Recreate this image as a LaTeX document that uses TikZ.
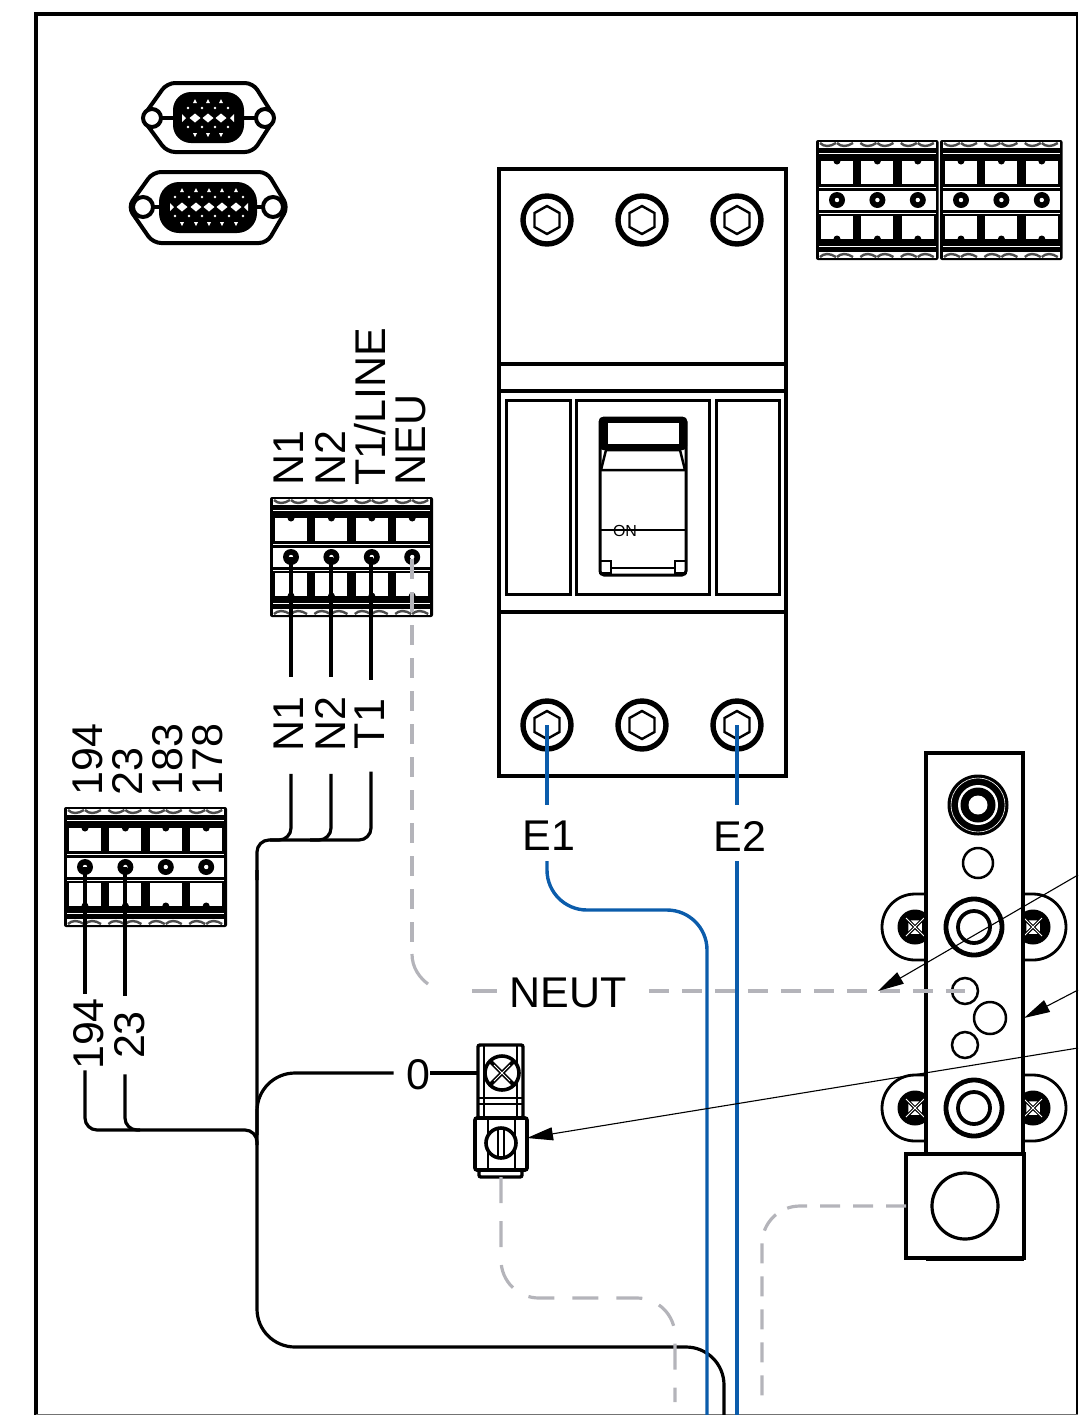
\documentclass[tikz,border=0pt]{standalone}
\usepackage{fontspec}
\setmainfont{Liberation Sans}
\usepackage{tikz}
\usetikzlibrary{arrows.meta}

\definecolor{wireblue}{HTML}{0B5CAB}
\definecolor{wiregrey}{HTML}{B4B4BA}

\tikzset{
    part/.style={line width=1.6pt, black},
    thinpart/.style={line width=1.25pt, black},
    blackwire/.style={line width=1.6pt, black, rounded corners=19pt},
    bluewire/.style={line width=1.7pt, wireblue, rounded corners=20pt},
    greywire/.style={line width=1.6pt, wiregrey, dash pattern=on 10pt off 6.5pt, rounded corners=19pt},
    leader/.style={line width=0.55pt, black, -{Triangle[length=13pt,width=6.5pt]}},
    wirelabel/.style={font=\fontsize{21.5}{21.5}\selectfont, inner xsep=6pt, inner ysep=5pt},
    sidelabel/.style={font=\fontsize{21.5}{21.5}\selectfont, rotate=90, inner xsep=0pt, inner ysep=0pt},
    wiresidelabel/.style={font=\fontsize{21.5}{21.5}\selectfont, rotate=90, inner xsep=11pt, inner ysep=0pt},
}

% #1 x, #2 y, #3 number of cells
\newcommand{\termblock}[3]{
    \begin{scope}[shift={(#1,#2)}]
        \pgfmathsetmacro{\blockw}{40.5*#3+1}
        \fill[black, rounded corners=1pt] (0,0) rectangle (\blockw,120);
        \fill[white] (3,2) rectangle (\blockw-3,8);
        \fill[white] (3,112) rectangle (\blockw-3,118);
        \fill[white] (3,12.5) rectangle (\blockw-3,14);
        \fill[white] (3,105.5) rectangle (\blockw-3,107);
        \fill[white] (3,46.5) rectangle (\blockw-3,47.5);
        \fill[white] (3,72.5) rectangle (\blockw-3,73.5);
        \fill[white] (3,51) rectangle (\blockw-3,70);
        \foreach \i in {1,...,#3} {
            \pgfmathsetmacro{\cx}{40.4*(\i-1)}
            \begin{scope}[xshift=\cx*0.5pt]
                \fill[white] (5,21) rectangle (37,44);
                \fill[white] (5,76) rectangle (37,99);
                \fill[black] (21,21) circle (3.5);
                \fill[black] (21,99) circle (3.5);
                \fill[black] (21,60) circle (8);
                \fill[white] (21,60) circle (2.2);
                \draw[line width=1.2pt, black!70] (4,3) .. controls (8,7) and (14,7) .. (20,3);
                \draw[line width=1.2pt, black!70] (21,3) .. controls (25,7) and (31,7) .. (37,3);
                \draw[line width=1.2pt, black!70] (4,117) .. controls (8,113) and (14,113) .. (20,117);
                \draw[line width=1.2pt, black!70] (21,117) .. controls (25,113) and (31,113) .. (37,117);
            \end{scope}
        }
    \end{scope}
}

% #1 name, #2 x, #3 y
\newcommand{\hexscrew}[3]{
    \coordinate (#1) at (#2,#3);
    \begin{scope}[shift={(#2,#3)}]
        \draw[line width=2.7pt] (0,0) circle (24);
        \draw[line width=1.2pt] (0,-14) -- (12.5,-7) -- (12.5,7) -- (0,14) -- (-12.5,7) -- (-12.5,-7) -- cycle;
    \end{scope}
}

% #1 x, #2 y
\newcommand{\crossscrew}[2]{
    \fill[black] (#1,#2) circle (17.5);
    \draw[white, line width=0.4pt] (#1-9,#2-9) -- (#1+9,#2+9);
    \draw[white, line width=0.4pt] (#1-9,#2+9) -- (#1+9,#2-9);
    \foreach \qa in {0,90,180,270} {
        \fill[white] (#1,#2) ++(\qa:2.5) -- ++(\qa+45:6) -- ++(\qa-90:8.5) -- cycle;
    }
    \fill[white] (#1,#2) circle (1.2);
}

% #1 x, #2 y
\newcommand{\pingap}[2]{
    \fill[white] (#1-5.5,#2) -- (#1,#2-4.5) -- (#1+5.5,#2) -- (#1,#2+4.5) -- cycle;
}

\begin{document}
\begin{tikzpicture}[x=0.5pt,y=-0.5pt]
    \useasboundingbox (0,0) rectangle (1078,1415);

    % panel frame
    \draw[line width=1.7pt] (36,1415) -- (36,14) -- (1078,14);
    \draw[line width=0.7pt] (1077,14) -- (1077,1415);
    \draw[line width=0.6pt, black!55] (36,1414.5) -- (1078,1414.5);

    % small sub-d
    \draw[line width=2pt, rounded corners=4pt] (142,118) -- (167,83) -- (253,83) -- (275,118) -- (253,152) -- (167,152) -- cycle;
    \draw[line width=2pt] (160,118) -- (175,118);
    \draw[line width=2pt] (242,118) -- (257,118);
    \draw[line width=2pt, fill=white] (152,118) circle (9);
    \draw[line width=2pt, fill=white] (265,118) circle (9);
    \fill[black, rounded corners=9pt] (173,92) rectangle (244,143);
    \foreach \px in {195,208,221} {
        \pingap{\px}{118}
        \fill[white] (\px,99) -- (\px+2,103) -- (\px-2,103) -- cycle;
        \fill[white] (\px,137) -- (\px+2,133) -- (\px-2,133) -- cycle;
    }
    \fill[white] (182,114) -- (186,118) -- (182,122) -- cycle;
    \fill[white] (234,114) -- (230,118) -- (234,122) -- cycle;
    \foreach \px in {188,202,215,228} {
        \fill[white] (\px,108) circle (1.3);
        \fill[white] (\px,127) circle (1.3);
    }
    % big sub-d
    \draw[line width=2pt, rounded corners=4pt] (128,207) -- (153,172) -- (267,172) -- (288,207) -- (267,243) -- (153,243) -- cycle;
    \draw[line width=2pt] (148,207) -- (162,207);
    \draw[line width=2pt] (255,207) -- (268,207);
    \draw[line width=2pt, fill=white] (143,207) circle (10);
    \draw[line width=2pt, fill=white] (273,207) circle (10);
    \fill[black, rounded corners=10pt] (159,182) rectangle (257,233);
    \foreach \px in {182,196,209,222,236} {
        \pingap{\px}{207}
        \fill[white] (\px,188) -- (\px+2,192) -- (\px-2,192) -- cycle;
        \fill[white] (\px,226) -- (\px+2,222) -- (\px-2,222) -- cycle;
    }
    \fill[white] (170,203) -- (174,207) -- (170,211) -- cycle;
    \fill[white] (248,203) -- (244,207) -- (248,211) -- cycle;
    \foreach \px in {175,189,202,215,229,243} {
        \fill[white] (\px,197) circle (1.3);
        \fill[white] (\px,216) circle (1.3);
    }

    % terminal blocks
    \termblock{816}{140}{3}
    \termblock{940}{140}{3}
    \termblock{270}{497}{4}
    \termblock{64}{807}{4}
    \coordinate (pinN1) at (291,557);
    \coordinate (pinN2) at (331,557);
    \coordinate (pinT1) at (371,557);
    \coordinate (pinNEU) at (412,559);
    \coordinate (pinA) at (85,867);
    \coordinate (pinB) at (125,867);

    % breaker
    \draw[part] (499,169) rectangle (786,776);
    \draw[part] (499,364) -- (786,364);
    \draw[part] (499,391) -- (786,391);
    \draw[part] (499,612) -- (786,612);
    \draw[line width=1.5pt] (506,400) rectangle (570,594);
    \draw[line width=1.5pt] (576,400) rectangle (709,594);
    \draw[line width=1.5pt] (716,400) rectangle (779,594);
    \hexscrew{hexA}{547}{220}
    \hexscrew{hexB}{642}{220}
    \hexscrew{hexC}{737}{220}
    \hexscrew{hexE1}{547}{725}
    \hexscrew{hexM}{642}{725}
    \hexscrew{hexE2}{737}{725}

    % breaker handle
    \draw[line width=1.5pt, rounded corners=2pt] (600,418) rectangle (686,575);
    \fill[black, rounded corners=2pt] (599,417) rectangle (687,450);
    \draw[line width=1pt, fill=white] (607,422) rectangle (680,445);
    \draw[thinpart, fill=white] (606,450) -- (601,470) -- (685,470) -- (680,450) -- cycle;
    \draw[line width=1.2pt] (600,530) -- (686,530);
    \draw[thinpart] (600,561) rectangle (611,573);
    \draw[thinpart] (675,561) rectangle (686,573);
    \draw[line width=1pt] (611,568) -- (675,568);
    \node[font=\fontsize{8}{8}\selectfont, inner sep=0pt] (labelON) at (625,531) {ON};

    % neutral bar
    \foreach \by in {927,1108} {
        \draw[line width=1.4pt] (926,\by-33) -- (915,\by-33) arc (-90:-270:33) -- (926,\by+33);
        \draw[line width=1.4pt] (1023,\by-33) -- (1033,\by-33) arc (-90:90:33) -- (1023,\by+33);
        \crossscrew{915}{\by}
        \crossscrew{1033}{\by}
    }
    \draw[part, fill=white] (926,753) rectangle (1023,1155);
    \fill[black] (978,805) circle (30.5);
    \draw[white, line width=0.3pt] (978,805) circle (27);
    \fill[white] (978,805) circle (20);
    \fill[black] (978,805) circle (17.5);
    \fill[white] (978,805) circle (9.5);
    \draw[thinpart] (978,863) circle (15);
    \foreach \by in {927,1108} {
        \draw[line width=2.4pt] (974,\by) circle (28);
        \draw[line width=1.9pt] (974,\by) circle (16);
    }
    \draw[thinpart] (965,991) circle (13);
    \draw[thinpart] (990,1018) circle (16);
    \draw[thinpart] (965,1045) circle (13);
    \draw[part, fill=white] (906,1154) rectangle (1024,1258);
    \draw[line width=2.2pt] (926,1259) -- (1024,1259);
    \draw[part] (965,1206) circle (33);
    \coordinate (barLug) at (906,1206);

    % ground terminal
    \draw[line width=1.7pt, rounded corners=1pt] (478,1045) rectangle (523,1118);
    \draw[thinpart] (484,1045) -- (484,1118);
    \draw[thinpart] (517,1045) -- (517,1118);
    \draw[thinpart] (478,1098) -- (523,1098);
    \draw[thinpart] (478,1104) -- (523,1104);
    \draw[line width=1.8pt, fill=white] (502,1073) circle (17);
    \draw[line width=2pt] (491,1062) -- (513,1084);
    \draw[line width=2pt] (491,1084) -- (513,1062);
    \draw[white, line width=0.4pt] (494,1065) -- (510,1081);
    \draw[white, line width=0.4pt] (494,1081) -- (510,1065);
    \coordinate (gndTop) at (478,1073);
    \draw[line width=1.8pt, fill=white, rounded corners=1pt] (475,1118) rectangle (527,1170);
    \draw[thinpart] (488,1118) -- (488,1170);
    \draw[thinpart] (515,1118) -- (515,1170);
    \draw[line width=1.8pt, fill=white] (501,1143) circle (15);
    \draw[thinpart] (498,1129) -- (498,1157);
    \draw[thinpart] (504,1129) -- (504,1157);
    \draw[line width=1.7pt, rounded corners=1pt] (479,1170) rectangle (522,1177);
    \coordinate (gndBottom) at (501,1177);
    \coordinate (gndSide) at (527,1138);

    % labels
    \node[sidelabel, anchor=west] (topN1) at (289,486) {N1};
    \node[sidelabel, anchor=west] (topN2) at (330,486) {N2};
    \node[sidelabel, anchor=west] (topT1) at (370,486) {T1/LINE};
    \node[sidelabel, anchor=west] (topNEU) at (411,486) {NEU};
    \node[sidelabel, anchor=west] (top194) at (88,796) {194};
    \node[sidelabel, anchor=west] (top23) at (128,796) {23};
    \node[sidelabel, anchor=west] (top183) at (168,796) {183};
    \node[sidelabel, anchor=west] (top178) at (208,796) {178};
    \node[wiresidelabel] (labelN1) at (289,724) {N1};
    \node[wiresidelabel] (labelN2) at (330,724) {N2};
    \node[wiresidelabel] (labelT1) at (370,724) {T1};
    \node[wiresidelabel, inner xsep=0pt] (label194) at (89,1034) {194};
    \node[wiresidelabel, inner xsep=7.5pt] (label23) at (130,1035) {23};
    \node[wirelabel] (labelE1) at (549,836) {E1};
    \node[wirelabel] (labelE2) at (740,836) {E2};
    \node[wirelabel] (labelNEUT) at (568,993) {NEUT};
    \node[wirelabel] (label0) at (418,1075) {0};

    % black wires
    \draw[line width=1.6pt] (pinN1) -- ([yshift=-1.5pt]pinN1 |- labelN1.east);
    \draw[line width=1.6pt] (pinN2) -- ([yshift=-1.5pt]pinN2 |- labelN2.east);
    \draw[line width=1.6pt] (pinT1) -- ([yshift=-1.5pt]pinT1 |- labelT1.east);
    \draw[line width=1.6pt] (pinA) -- ([yshift=2pt]pinA |- label194.east);
    \draw[line width=1.6pt] (pinB) -- (pinB |- label23.east);
    \draw[blackwire, rounded corners=6pt] (pinN1 |- labelN1.west) -- (291,840) -- (270,840);
    \draw[blackwire, rounded corners=6pt] (pinN2 |- labelN2.west) -- (331,840) -- (310,840);
    \draw[blackwire, rounded corners=6pt] (pinT1 |- labelT1.west) -- (371,840) -- (257,840) -- (257,880);
    \draw[blackwire] (257,870) -- (257,1347) -- (724,1347) -- (724,1415);
    \draw[blackwire, rounded corners=6pt] (pinA |- label194.west) -- (85,1130) -- (257,1130) -- (257,1145);
    \draw[blackwire, rounded corners=6pt] (pinB |- label23.west) -- (125,1130) -- (140,1130);
    \draw[blackwire] (257,1135) -- (257,1073) -- (label0.west |- 0,1073);
    \draw[line width=1.6pt] ([xshift=-6pt]label0.east |- 0,1073) -- (gndTop);

    % blue wires
    \draw[bluewire] (hexE1) -- ([yshift=3pt]hexE1 |- labelE1.north);
    \draw[bluewire] (hexE2) -- ([yshift=3pt]hexE2 |- labelE2.north);
    \draw[bluewire] (hexE1 |- labelE1.south) -- (547,910) -- (707,910) -- (707,1415);
    \draw[bluewire] (hexE2 |- labelE2.south) -- (737,1415);

    % grey wires
    \draw[greywire] (pinNEU) -- (412,942);
    \draw[line width=1.6pt, wiregrey] (412,954) .. controls (412,968) and (420,978) .. (428,984);
    \draw[line width=1.6pt, wiregrey] (472,991) -- (labelNEUT.west |- 0,991);
    \draw[greywire] ([xshift=5pt]labelNEUT.east |- 0,991) -- (965,991);
    \draw[greywire, dash pattern=on 13pt off 9pt] (gndBottom) -- (501,1298) -- (675,1298) -- (675,1402);
    \draw[greywire] (barLug) -- (762,1206) -- (762,1402);

    % leaders
    \coordinate (leadA) at (1078,875);
    \coordinate (leadB) at (1078,990);
    \coordinate (leadC) at (1078,1048);
    \coordinate (tipA) at (878,991);
    \coordinate (tipB) at (1024,1018);
    \draw[leader] (leadA) -- (tipA);
    \draw[leader] (leadB) -- (tipB);
    \draw[leader] (leadC) -- (gndSide);
\end{tikzpicture}
\end{document}
